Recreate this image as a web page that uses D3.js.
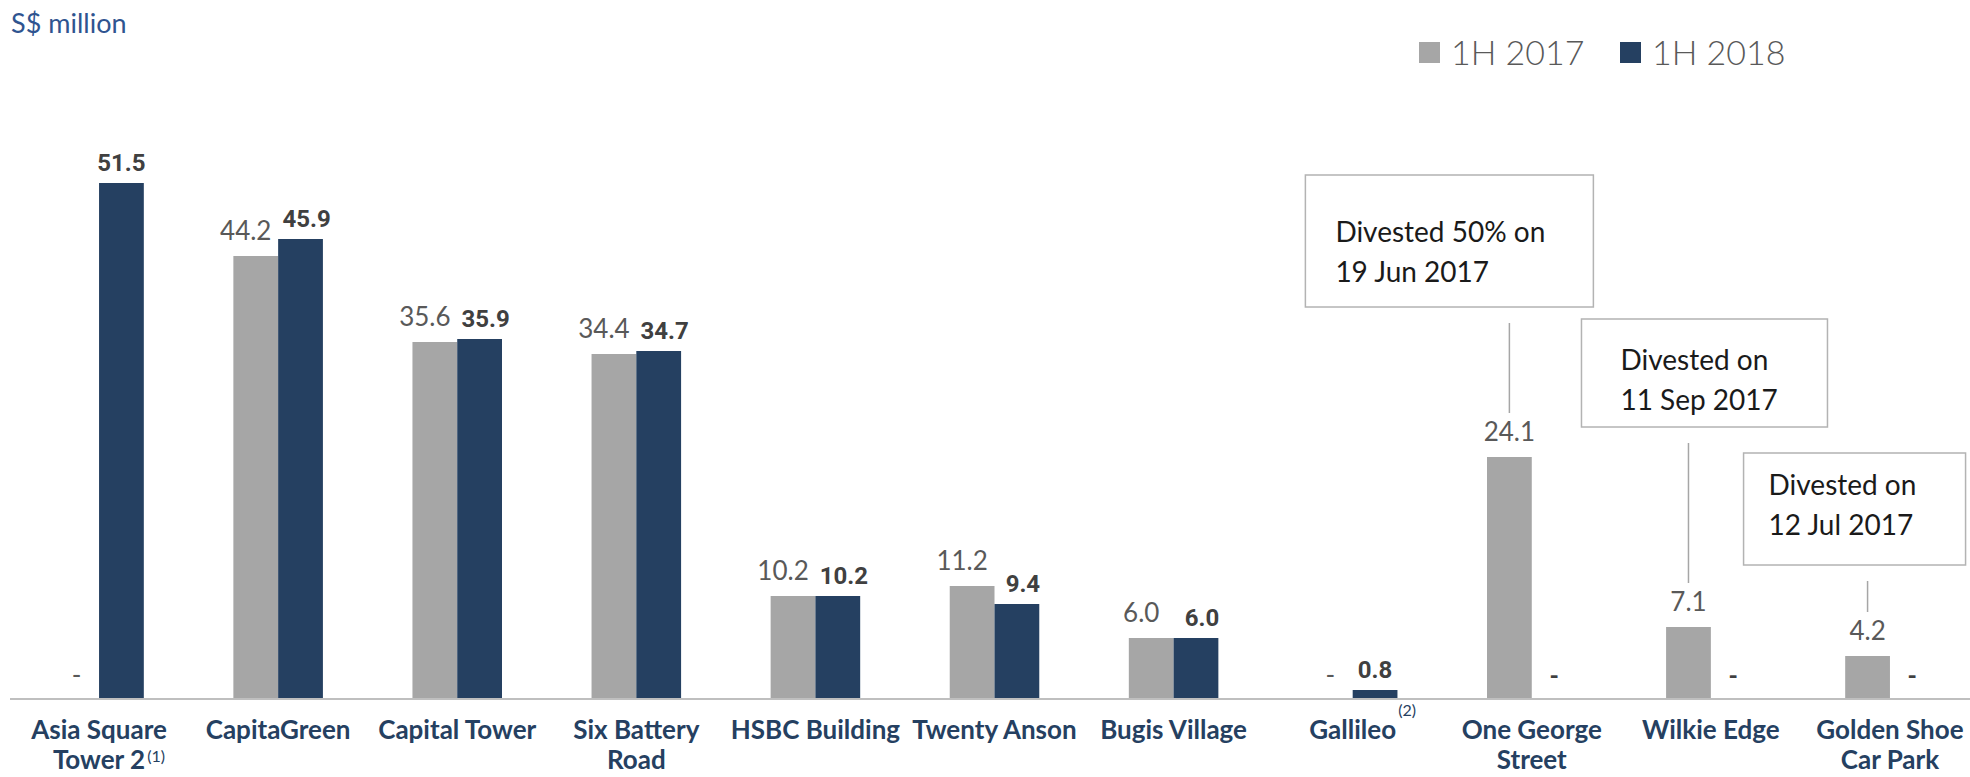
<!DOCTYPE html>
<html>
<head>
<meta charset="utf-8">
<script src="https://cdn.jsdelivr.net/npm/d3@7"></script>
<style>
  body { margin: 0; background: #fff; }
  svg { display: block; }
</style>
</head>
<body>
<div id="chart"></div>
<script>
const categories = [
  ["Asia Square", "Tower 2"], ["CapitaGreen"], ["Capital Tower"], ["Six Battery", "Road"],
  ["HSBC Building"], ["Twenty Anson"], ["Bugis Village"], ["Gallileo"],
  ["One George", "Street"], ["Wilkie Edge"], ["Golden Shoe", "Car Park"]
];
const footnotes = ["(1)", "", "", "", "", "", "", "(2)", "", "", ""];
const series = ["1H 2017", "1H 2018"];
const values2017 = [0, 44.2, 35.6, 34.4, 10.2, 11.2, 6.0, 0, 24.1, 7.1, 4.2];
const values2018 = [51.5, 45.9, 35.9, 34.7, 10.2, 9.4, 6.0, 0.8, 0, 0, 0];
const notes = [
  { cat: 8, lines: ["Divested 50% on", "19 Jun 2017"] },
  { cat: 9, lines: ["Divested on", "11 Sep 2017"] },
  { cat: 10, lines: ["Divested on", "12 Jul 2017"] }
];

const W = 1970, H = 777;
const colors = ["#a6a6a6", "#254061"];
const baseY = 698;
const font = "'Century Gothic', Lato, 'Open Sans', sans-serif";

const svg = d3.select("#chart").append("svg")
    .attr("width", W)
    .attr("height", H);

const keys = categories.map((d, i) => i);
const x0 = d3.scaleBand().domain(keys).range([9.5, 1979.5]).paddingInner(0.5).paddingOuter(0.25);
const x1 = d3.scaleBand().domain([0, 1]).range([0, x0.bandwidth()]);
const y = d3.scaleLinear().domain([0, 60]).range([baseY, baseY - 600]);

const rows = keys.map(i => ({ i: i, vals: [values2017[i], values2018[i]] }));

// unit label
svg.append("text")
    .attr("x", 11).attr("y", 33)
    .style("font-family", font).style("font-size", "27px")
    .style("fill", "#2f5490")
    .text("S$ million");

// legend
const leg = svg.append("g");
const legX = [1419, 1620];
series.forEach((s, k) => {
  leg.append("rect").attr("x", legX[k]).attr("y", 42).attr("width", 21).attr("height", 21).attr("fill", colors[k]);
  leg.append("text").attr("x", legX[k] + 32).attr("y", 65)
    .style("font-family", font).style("font-size", "34px").style("font-weight", 300)
    .style("fill", "#595959").text(s);
});

// bars
const groups = svg.selectAll("g.grp").data(rows).enter().append("g")
    .attr("class", "grp")
    .attr("transform", d => `translate(${x0(d.i)},0)`);

groups.selectAll("rect").data(d => d.vals.map((v, k) => ({ v: v, k: k }))).enter()
    .append("rect")
    .attr("x", d => x1(d.k))
    .attr("width", x1.bandwidth())
    .attr("y", d => y(d.v))
    .attr("height", d => baseY - y(d.v))
    .attr("fill", d => colors[d.k]);

// value labels
groups.each(function(d) {
  const g = d3.select(this);
  const both = d.vals[0] > 0 && d.vals[1] > 0;
  d.vals.forEach((v, k) => {
    const cx = x1(k) + x1.bandwidth() / 2 + (both ? (k === 0 ? -10 : 6) : 0);
    const yy = v > 0 ? y(v) - (k === 0 ? 16 : 12) : baseY - 14;
    g.append("text")
      .attr("x", cx).attr("y", yy)
      .attr("text-anchor", "middle")
      .style("font-family", k === 0 ? font : "Roboto, 'Open Sans', sans-serif")
      .style("font-size", k === 0 ? "26px" : "24px")
      .style("font-weight", k === 0 ? 400 : 700)
      .style("fill", k === 0 ? "#595959" : "#404040")
      .text(v > 0 ? v.toFixed(1) : "-");
  });
});

// baseline
svg.append("line")
    .attr("x1", 10).attr("x2", W).attr("y1", baseY + 1).attr("y2", baseY + 1)
    .attr("stroke", "#bfbfbf").attr("stroke-width", 2);

// category labels
rows.forEach(d => {
  const cx = x0(d.i) + x0.bandwidth() / 2;
  const lines = categories[d.i];
  const t = svg.append("text")
    .attr("text-anchor", "middle")
    .style("font-family", font).style("font-size", "26px").style("font-weight", 700)
    .style("fill", "#254061");
  lines.forEach((ln, j) => {
    t.append("tspan").attr("x", cx).attr("y", 739 + j * 30).text(ln);
  });
  if (footnotes[d.i]) {
    const last = t.selectAll("tspan").nodes().pop();
    const bb = last.getBBox();
    svg.append("text")
      .attr("x", bb.x + bb.width + 2)
      .attr("y", lines.length > 1 ? 762 : 716)
      .style("font-family", font).style("font-size", "16px")
      .style("fill", "#254061")
      .text(footnotes[d.i]);
  }
});

// annotation boxes
const boxLayout = [
  { dx: -204, top: 175, w: 288, h: 132, tx: 30, ty: 67 },
  { dx: -107, top: 319, w: 246, h: 108, tx: 39, ty: 51 },
  { dx: -124, top: 453, w: 222, h: 112, tx: 25, ty: 42 }
];
notes.forEach((n, j) => {
  const L = boxLayout[j];
  const cx = x0(n.cat) + x1(0) + x1.bandwidth() / 2;
  const left = cx + L.dx;
  svg.append("rect")
    .attr("x", left).attr("y", L.top).attr("width", L.w).attr("height", L.h)
    .attr("fill", "#fff").attr("stroke", "#b3b3b3").attr("stroke-width", 1.5);
  const t = svg.append("text")
    .style("font-family", font).style("font-size", "28px")
    .style("fill", "#1a1a1a");
  n.lines.forEach((ln, k) => {
    t.append("tspan").attr("x", left + L.tx).attr("y", L.top + L.ty + k * 40).text(ln);
  });
  svg.append("line")
    .attr("x1", cx).attr("x2", cx)
    .attr("y1", L.top + L.h + 16)
    .attr("y2", y(values2017[n.cat]) - 44)
    .attr("stroke", "#a6a6a6").attr("stroke-width", 1.5);
});
</script>
</body>
</html>
